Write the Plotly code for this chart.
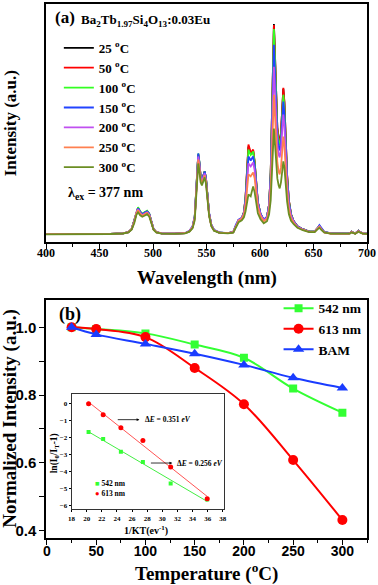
import numpy as np
import plotly.graph_objects as go

# ---------------- (a) emission spectra ----------------
wavelength_nm = [
    400, 430, 460, 472, 477, 480,
    482.5, 484.5, 486, 488, 490, 492, 494.5, 496.5, 498.5, 500.5, 503, 508,
    520, 530, 534, 537, 539, 540.5, 541.5, 542.3, 543.3, 544.5, 545.7, 547, 548.3, 549.5, 551, 552.5, 554.5, 557, 562, 570,
    575, 577.5, 580, 583, 585, 586.5, 588, 589.2, 590.3, 591.3, 592.4, 593.6, 595, 596.5, 598, 600.5, 603.5, 606.5, 608.5, 610,
    611.2, 612.2, 613, 613.8, 614.8, 616.2, 617.4, 618.4, 619.6, 620.8, 621.8, 622.8, 624, 625.3, 627, 629, 631.5, 635, 640,
    646, 651, 653.5, 655.5, 657.5, 660, 666, 675, 682, 684, 685.5, 687, 689, 690.5, 692, 693.8, 696, 700,
]

I_25C = [
    8, 8, 8.3, 8.8, 10, 13,
    22, 31, 34, 30, 28, 29.5, 31, 28, 20, 13, 10, 8.8,
    8.5, 9, 11, 15, 25, 50, 75, 88, 80, 66, 62, 67, 71, 64, 45, 28, 17, 12, 9.5, 9,
    10, 17, 22, 24, 30, 45, 75, 96, 92, 89, 90, 92, 80, 57, 40, 28, 22, 25, 38, 70,
    130, 190, 219, 195, 150, 115, 103, 100, 110, 135, 154, 140, 105, 68, 42, 28, 21, 16, 13,
    10.5, 10.5, 13, 16, 13, 10, 8.8, 8.5, 8.5, 9, 10.5, 9.5, 8.8, 10, 11.5, 10, 8.8, 8.5,
]
I_50C = [
    8, 8, 8.3, 8.8, 10, 13,
    22, 31.5, 34.5, 30.5, 28, 29.5, 31, 28, 20, 13, 10, 8.8,
    8.5, 9, 11, 15, 25, 50, 75, 88, 80, 66, 62, 67, 71, 64, 45, 28, 17, 12, 9.5, 9,
    10, 17, 22, 24, 30, 46, 77, 98, 94, 90, 91, 93, 81, 58, 40, 28, 22, 25, 38, 70,
    130, 189, 218, 194, 150, 115, 103, 100, 110, 136, 155, 141, 106, 68, 42, 28, 21, 16, 13,
    10.5, 10.5, 13, 16, 13, 10, 8.8, 8.5, 8.5, 9, 10.5, 9.5, 8.8, 10, 11.5, 10, 8.8, 8.5,
]
I_100C = [
    8, 8, 8.3, 8.8, 10, 13,
    22.5, 32, 35, 31, 28.5, 30, 31.5, 28.5, 20.5, 13, 10, 8.8,
    8.5, 9, 11, 15.5, 26, 51, 76, 89, 81, 66, 62, 67, 71, 64, 45, 28, 17, 12, 9.5, 9,
    10, 17, 22, 24, 30, 45, 73, 93, 90, 87.5, 89, 91, 80, 57, 40, 28, 22, 25, 38, 69,
    127, 185, 214, 190, 147, 112, 100, 97, 106, 130, 148, 135, 101, 66, 41, 28, 21, 16, 13,
    10.5, 10.6, 13.3, 16.5, 13.3, 10.2, 8.9, 8.5, 8.5, 9, 10.5, 9.5, 8.8, 10, 11.5, 10, 8.8, 8.5,
]
I_150C = [
    8, 8, 8.3, 8.8, 10, 13,
    22, 31, 34, 30.5, 28, 29.5, 31, 28.5, 20.5, 13.5, 10.2, 8.9,
    8.6, 9.2, 11.5, 16, 26, 51, 76, 89, 81, 66, 62, 67, 71, 64.5, 46, 29, 17.5, 12.5, 9.8, 9.1,
    10.2, 17.5, 22.5, 24.5, 30, 43, 68, 86, 84, 82, 84, 86, 77, 56, 40, 28.5, 22.5, 25.5, 38, 67,
    120, 172, 198, 176, 138, 106, 95, 92, 101, 124, 141, 129, 97, 64, 40, 27.5, 21, 16, 13,
    10.6, 10.8, 13.6, 17, 13.6, 10.3, 9, 8.6, 8.6, 9.1, 10.6, 9.6, 8.9, 10.1, 11.6, 10.1, 8.9, 8.6,
]
I_200C = [
    8, 8, 8.3, 8.8, 10, 13,
    21, 30, 33, 29.5, 27, 28.5, 30, 27.5, 20, 13, 10, 8.8,
    8.5, 9, 11.2, 15.5, 25, 49, 73, 86, 78.5, 64.5, 61, 65.5, 69, 62.5, 44, 28, 17, 12, 9.6, 9,
    10, 17, 22, 24, 29, 40, 63, 79, 77.5, 76, 78, 80, 72, 53, 38, 27.5, 22, 24.5, 36, 62,
    108, 153, 176, 157, 124, 97, 88, 85, 93, 113, 128, 117, 89, 59, 37.5, 26.5, 20.5, 15.5, 12.8,
    10.4, 10.5, 13, 16, 13, 10, 8.8, 8.5, 8.5, 9, 10.4, 9.4, 8.8, 9.9, 11.3, 9.9, 8.8, 8.5,
]
I_250C = [
    8, 8, 8.3, 8.8, 10, 13,
    20.5, 29, 32, 28.5, 26.5, 28, 29.5, 27, 19.5, 13, 10, 8.8,
    8.5, 9, 11, 15, 24, 47, 71, 83, 76, 62.5, 59, 63.5, 67, 60.5, 43, 27, 16.5, 11.8, 9.5, 9,
    10, 16.5, 21.5, 23.5, 28, 37, 55, 68, 67, 66, 68, 70, 64, 48, 35, 26, 21, 23.5, 33, 54,
    92, 129, 148, 132, 104, 80, 71, 68, 75, 93, 106, 97, 74, 50, 33, 24, 19.5, 15, 12.5,
    10.3, 10.3, 12.7, 15.5, 12.7, 9.9, 8.7, 8.4, 8.4, 8.9, 10.2, 9.3, 8.7, 9.8, 11, 9.8, 8.7, 8.4,
]
I_300C = [
    7.9, 7.9, 8.2, 8.7, 9.8, 12.5,
    19, 27.5, 30, 27, 25.5, 26.5, 28, 25.5, 18.5, 12.5, 9.8, 8.6,
    8.3, 8.8, 10.5, 14, 22, 44, 67, 79, 72, 60, 57, 61.5, 65, 58.5, 41.5, 26, 16, 11.5, 9.3, 8.8,
    9.5, 15.5, 20, 22, 25, 31, 41, 48, 47, 46, 51, 56, 50, 38, 29, 23, 19, 21, 28, 42,
    75, 100, 114, 102, 82, 64, 57, 54, 60, 73, 81, 75, 58, 41, 28, 21.5, 18, 14.5, 12,
    10, 10, 12.2, 14.5, 12.2, 9.7, 8.6, 8.3, 8.3, 8.7, 9.8, 9.1, 8.5, 9.5, 10.6, 9.5, 8.6, 8.3,
]

spectra = [I_25C, I_50C, I_100C, I_150C, I_200C, I_250C, I_300C]
spectra_labels = ["25 <sup>o</sup>C", "50 <sup>o</sup>C", "100 <sup>o</sup>C", "150 <sup>o</sup>C",
                  "200 <sup>o</sup>C", "250 <sup>o</sup>C", "300 <sup>o</sup>C"]
spectra_colors = ["#000000", "#ff0000", "#33ff22", "#2244ff", "#c050f0", "#ff8050", "#6b8e23"]
for s in spectra:
    assert len(s) == len(wavelength_nm), len(s)

# ---------------- (b) thermal quenching ----------------
temperature_C = [25, 50, 100, 150, 200, 250, 300]
norm_542nm = [1.0, 0.995, 0.982, 0.949, 0.91, 0.819, 0.748]
norm_613nm = [1.0, 0.995, 0.971, 0.88, 0.773, 0.608, 0.431]
norm_BAM = [1.0, 0.979, 0.951, 0.922, 0.889, 0.851, 0.821]

# inset: ln(I0/IT - 1) vs 1/kT
inv_kT = [20.25, 22.18, 24.52, 27.43, 31.10, 35.93]
ln_542nm = [-1.70, -2.11, -2.85, -3.46, -4.73, -5.67]
ln_613nm = [-0.04, -0.68, -1.44, -2.20, -3.75, -5.62]

SERIF = "Liberation Serif"
SANS = "Liberation Sans"

fig = go.Figure()

for s, lab, col in zip(spectra, spectra_labels, spectra_colors):
    fig.add_trace(go.Scatter(x=wavelength_nm, y=s, mode="lines", name=lab,
                             line=dict(color=col, width=1.8), xaxis="x", yaxis="y",
                             legend="legend"))

GREEN = "#33ff33"
RED = "#ff0000"
BLUE = "#1a3cff"
fig.add_trace(go.Scatter(x=temperature_C, y=norm_542nm, mode="lines+markers", name="542 nm",
                         line=dict(color=GREEN, width=2, shape="spline"),
                         marker=dict(symbol="square", size=8, color=GREEN),
                         xaxis="x2", yaxis="y2", legend="legend2"))
fig.add_trace(go.Scatter(x=temperature_C, y=norm_613nm, mode="lines+markers", name="613 nm",
                         line=dict(color=RED, width=2, shape="spline"),
                         marker=dict(symbol="circle", size=10, color=RED),
                         xaxis="x2", yaxis="y2", legend="legend2"))
fig.add_trace(go.Scatter(x=temperature_C, y=norm_BAM, mode="lines+markers", name="BAM",
                         line=dict(color=BLUE, width=2, shape="spline"),
                         marker=dict(symbol="triangle-up", size=10, color=BLUE),
                         xaxis="x2", yaxis="y2", legend="legend2"))

# inset: linear fits + points
xs = np.array(inv_kT)
for yv, lcol, mcol, sym, msz in [(ln_542nm, "#44ee44", "#33ff33", "square", 4),
                                 (ln_613nm, "#ff5555", "#ff0000", "circle", 5)]:
    p = np.polyfit(xs, np.array(yv), 1)
    xf = np.array([xs.min(), xs.max()])
    fig.add_trace(go.Scatter(x=xf, y=np.polyval(p, xf), mode="lines",
                             line=dict(color=lcol, width=1), showlegend=False,
                             xaxis="x3", yaxis="y3"))
    fig.add_trace(go.Scatter(x=inv_kT, y=yv, mode="markers",
                             marker=dict(symbol=sym, size=msz, color=mcol),
                             showlegend=False, xaxis="x3", yaxis="y3"))

axis_common = dict(showline=True, mirror=True, linecolor="black", linewidth=1.5,
                   showgrid=False, zeroline=False)

fig.update_layout(
    width=378, height=585,
    margin=dict(l=46, r=9, t=2, b=47),
    paper_bgcolor="white", plot_bgcolor="white",
    xaxis=dict(domain=[0, 1], anchor="y", range=[400, 700], tick0=400, dtick=50,
               ticks="outside", ticklen=5, tickwidth=1.2, tickcolor="black",
               ticklabelstandoff=-6,
               minor=dict(dtick=25, ticks="outside", ticklen=3, tickcolor="black"),
               tickfont=dict(family=SERIF, size=12, color="black", weight="bold"),
               **axis_common),
    yaxis=dict(domain=[0.554, 1], anchor="x", range=[0, 239], showticklabels=False,
               ticks="", **axis_common),
    xaxis2=dict(domain=[0, 1], anchor="y2", range=[-1, 325], tick0=0, dtick=50,
                ticks="outside", ticklen=5, tickwidth=1.2, tickcolor="black",
                ticklabelstandoff=-6,
                minor=dict(dtick=25, ticks="outside", ticklen=3, tickcolor="black"),
                tickfont=dict(family=SANS, size=14, color="black", weight="bold"),
                **axis_common),
    yaxis2=dict(domain=[0, 0.446], anchor="x2", range=[0.378, 1.081], tick0=0.4, dtick=0.2,
                tickformat=".1f", ticks="outside", ticklen=5, tickwidth=1.2, tickcolor="black",
                minor=dict(dtick=0.1, ticks="outside", ticklen=5, tickcolor="black"),
                tickfont=dict(family=SANS, size=15, color="black", weight="bold"),
                **axis_common),
    xaxis3=dict(domain=[0.0796, 0.5557], anchor="y3", range=[18, 38.2], tick0=18, dtick=2,
                ticks="outside", ticklen=2, tickwidth=0.8, tickcolor="black",
                tickfont=dict(family=SERIF, size=7, color="black", weight="bold"),
                showline=True, mirror=True, linecolor="#333", linewidth=1,
                showgrid=False, zeroline=False),
    yaxis3=dict(domain=[0.0541, 0.270], anchor="x3", range=[-6.23, 0.55], dtick=1,
                ticks="outside", ticklen=2, tickwidth=0.8, tickcolor="black",
                tickfont=dict(family=SERIF, size=7, color="black", weight="bold"),
                showline=True, mirror=True, linecolor="#333", linewidth=1,
                showgrid=False, zeroline=False),
    legend=dict(x=0.040, y=0.946, xanchor="left", yanchor="top", bgcolor="rgba(0,0,0,0)",
                font=dict(family=SERIF, size=13, color="black", weight="bold"),
                tracegroupgap=0, itemwidth=30),
    legend2=dict(x=0.7245, y=0.459, xanchor="left", yanchor="top", bgcolor="rgba(0,0,0,0)",
                 font=dict(family=SERIF, size=13.5, color="black", weight="bold"),
                 tracegroupgap=0, itemwidth=30),
)

def ann(text, x, y, size, xanchor="left", yanchor="middle", angle=0, xref="paper", yref="paper", family=SERIF):
    fig.add_annotation(text=text, x=x, y=y, xref=xref, yref=yref, showarrow=False,
                       xanchor=xanchor, yanchor=yanchor, textangle=angle,
                       font=dict(family=family, size=size, color="black", weight="bold"))

# panel (a) texts
ann("(a)", 0.0217, 0.9739, 17)
ann("Ba<sub>2</sub>Tb<sub>1.97</sub>Si<sub>4</sub>O<sub>13</sub>:0.03Eu", 0.1022, 0.970, 13)
ann("λ<sub>ex</sub> = 377 nm", 0.061, 0.6455, 14)
ann("Intensity (a.u.)", -0.1115, 0.777, 17, xanchor="center", angle=-90)
ann("Wavelength (nm)", 0.5, 0.4875, 19, xanchor="center")

# panel (b) texts
ann("(b)", 0.034, 0.418, 18)
ann("Temperature (<sup>o</sup>C)", 0.5, -0.0653, 19, xanchor="center")
ann("Normalized Intensity (a.u.)", -0.113, 0.223, 19, xanchor="center", angle=-90)

# inset texts
ann("ln(I<sub>0</sub>/I<sub>T</sub>-1)", 0.0248, 0.1586, 9.5, xanchor="center", angle=-90)
ann("1/KT(ev<sup>-1</sup>)", 0.3127, 0.0149, 10, xanchor="center")
ann("<span style='color:#33ff33'>■</span> 542 nm", 0.1455, 0.102, 7.5)
ann("<span style='color:#ff0000'>●</span> 613 nm", 0.1455, 0.0834, 7.5)

for (x0, x1, y0, label, xt) in [(23.91, 26.97, -0.97, "Δ<i>E</i> = 0.351 <i>eV</i>", 27.5),
                                (28.29, 31.31, -3.52, "Δ<i>E</i> = 0.256 <i>eV</i>", 31.7)]:
    fig.add_annotation(x=x1, y=y0, ax=x0, ay=y0, xref="x3", yref="y3", axref="x3", ayref="y3",
                       text="", showarrow=True, arrowhead=2, arrowsize=0.7, arrowwidth=0.8,
                       arrowcolor="black")
    ann(label, xt, y0, 7.5, xref="x3", yref="y3")

fig.write_html("out.html", config={"displayModeBar": False},
               post_script="document.body.style.margin='0px';")
